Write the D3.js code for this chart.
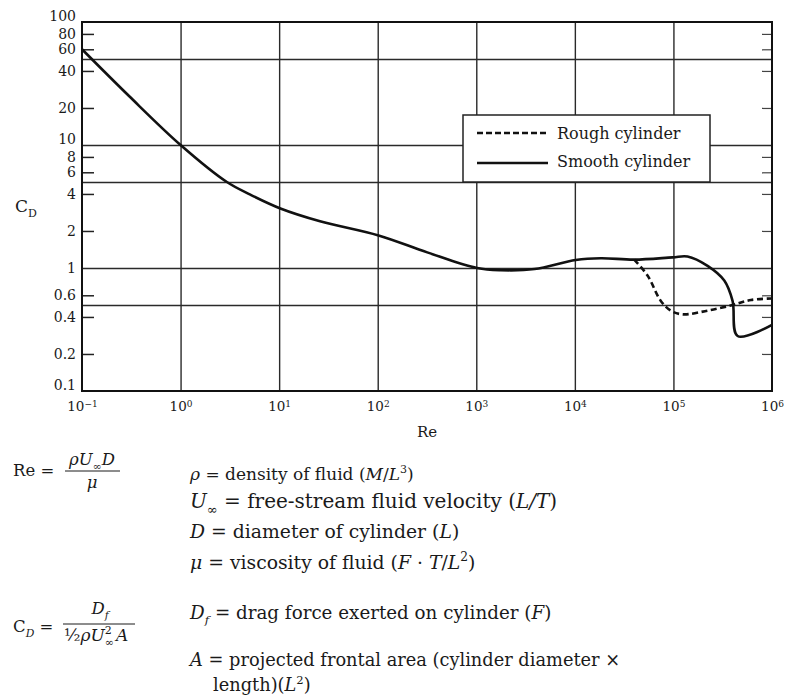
<!DOCTYPE html>
<head>
  <meta charset="utf-8" />
  <script src="https://cdn.jsdelivr.net/npm/d3@7"></script>
  <style>
    body { margin: 0; background: #fff; }
    svg { display: block; }
    text { font-family: "DejaVu Serif", serif; fill: #1a1a1a; }
  </style>
</head>
<body>
  <svg width="788" height="700"></svg>
  <script>
    // drag coefficient of a cylinder vs Reynolds number
    const reSmooth = [0.1, 0.3, 1, 2.95, 5.1, 10.3, 26, 102, 318, 1020, 1770, 3900, 10200, 18300, 40000, 98000, 139000, 222000, 328000, 398000, 448000, 1000000];
    const cdSmooth = [60, 25, 10, 5.0, 3.95, 3.05, 2.4, 1.84, 1.34, 1.0, 0.96, 0.98, 1.16, 1.2, 1.17, 1.22, 1.24, 1.04, 0.79, 0.54, 0.28, 0.345];
    const reRough = [40000, 54600, 74500, 94200, 124000, 222000, 398000, 612000, 1000000];
    const cdRough = [1.17, 0.87, 0.54, 0.45, 0.42, 0.45, 0.50, 0.55, 0.565];

    const xTicks = [0.1, 1, 10, 100, 1e3, 1e4, 1e5, 1e6];
    const xGrid = [1, 10, 100, 1e3, 1e4, 1e5];
    const yLabels = [100, 80, 60, 40, 20, 10, 8, 6, 4, 2, 1, 0.6, 0.4, 0.2, 0.1];
    const yMinor = [80, 60, 40, 20, 8, 6, 4, 2, 0.6, 0.4, 0.2];
    const yGrid = [50, 10, 5, 1, 0.5];
    const seriesNames = ["Rough cylinder", "Smooth cylinder"];

    const pL = 82, pR = 772, pT = 22, pB = 391;
    const svg = d3.select("svg");

    const x = d3.scaleLog().domain([0.1, 1e6]).range([pL, pR]);
    const y = d3.scaleLog().domain([0.1, 100]).range([pB, pT]);

    // grid
    svg.append("g").attr("transform", `translate(0,${pB})`)
      .call(d3.axisBottom(x).tickValues(xGrid).tickSize(-(pB - pT)).tickFormat(""))
      .call(g => g.select(".domain").remove())
      .selectAll("line").attr("stroke", "#2a2a2a").attr("stroke-width", 1.4);
    svg.append("g").attr("transform", `translate(${pL},0)`)
      .call(d3.axisLeft(y).tickValues(yGrid).tickSize(-(pR - pL)).tickFormat(""))
      .call(g => g.select(".domain").remove())
      .selectAll("line").attr("stroke", "#2a2a2a").attr("stroke-width", 1.4);

    // little inward ticks on both sides
    svg.append("g").attr("transform", `translate(${pL},0)`)
      .call(d3.axisRight(y).tickValues(yMinor).tickSize(12).tickFormat(""))
      .call(g => g.select(".domain").remove())
      .selectAll("line").attr("stroke", "#222").attr("stroke-width", 1.5);
    svg.append("g").attr("transform", `translate(${pR},0)`)
      .call(d3.axisLeft(y).tickValues(yMinor).tickSize(10).tickFormat(""))
      .call(g => g.select(".domain").remove())
      .selectAll("line").attr("stroke", "#444").attr("stroke-width", 1.2);

    // y labels
    svg.append("g").attr("transform", `translate(${pL},0)`)
      .call(d3.axisLeft(y).tickValues(yLabels).tickSize(0).tickPadding(6).tickFormat(d => String(d)))
      .call(g => g.select(".domain").remove())
      .selectAll("text")
      .attr("font-size", 14)
      .attr("font-family", "DejaVu Serif")
      .attr("fill", "#1a1a1a")
      .attr("dy", d => [100, 10, 0.1].includes(d) ? "-0.08em" : "0.32em");

    // x labels as 10^n
    svg.append("g").attr("transform", `translate(0,${pB})`)
      .call(d3.axisBottom(x).tickValues(xTicks).tickSize(0).tickPadding(10))
      .call(g => g.select(".domain").remove())
      .selectAll("text")
      .attr("font-size", 13.5)
      .attr("font-family", "DejaVu Serif")
      .attr("fill", "#1a1a1a")
      .each(function (d) {
        const t = d3.select(this);
        const e = Math.round(Math.log10(d));
        t.text(null);
        t.append("tspan").text("10");
        t.append("tspan").attr("dy", "-0.45em").attr("font-size", 9).text(e < 0 ? "\u2212" + (-e) : e);
      });

    // frame
    svg.append("rect")
      .attr("x", pL).attr("y", pT)
      .attr("width", pR - pL).attr("height", pB - pT)
      .attr("fill", "none").attr("stroke", "#111").attr("stroke-width", 2);

    // curves
    const line = d3.line().x(d => x(d[0])).y(d => y(d[1])).curve(d3.curveCatmullRom.alpha(0.5));
    svg.append("path")
      .datum(reSmooth.map((r, i) => [r, cdSmooth[i]]))
      .attr("d", line)
      .attr("fill", "none").attr("stroke", "#111").attr("stroke-width", 2.6);
    svg.append("path")
      .datum(reRough.map((r, i) => [r, cdRough[i]]))
      .attr("d", line)
      .attr("fill", "none").attr("stroke", "#111").attr("stroke-width", 2.6)
      .attr("stroke-dasharray", "6,3.5");

    // legend
    const lg = svg.append("g").attr("transform", "translate(463,115)");
    lg.append("rect").attr("width", 247).attr("height", 67)
      .attr("fill", "#fff").attr("stroke", "#222").attr("stroke-width", 1.5);
    seriesNames.forEach((name, i) => {
      lg.append("line")
        .attr("x1", 14).attr("x2", 85).attr("y1", 18 + i * 30).attr("y2", 18 + i * 30)
        .attr("stroke", "#111").attr("stroke-width", 2.6)
        .attr("stroke-dasharray", i === 0 ? "6,3" : null);
      lg.append("text").attr("x", 94).attr("y", 24 + i * 28)
        .attr("font-size", 16).text(name);
    });

    // rich text helper: parts = [text, style, dx]
    function rich(px, py, parts, size, anchor) {
      const t = svg.append("text").attr("x", px).attr("y", py)
        .attr("font-size", size).attr("text-anchor", anchor || "start");
      let shift = 0;
      parts.forEach(p => {
        const s = p[0], st = p[1] || "", dx = p[2] || 0;
        let target = 0;
        if (st.endsWith("sub")) target = size * 0.3;
        if (st.endsWith("sup")) target = -size * 0.42;
        const ts = t.append("tspan").attr("dy", target - shift).text(s);
        if (dx) ts.attr("dx", dx);
        shift = target;
        if (st.startsWith("i")) ts.attr("font-style", "italic");
        if (target !== 0) ts.attr("font-size", size * 0.65);
      });
      return t;
    }

    // axis titles
    svg.append("text").attr("x", 427).attr("y", 437).attr("text-anchor", "middle")
      .attr("font-size", 15).text("Re");
    rich(15, 212, [["C"], ["D", "sub"]], 17);

    // Re formula
    rich(13, 476, [["Re ="]], 16.5);
    rich(92, 465, [["\u03c1", "i"], ["U", "i"], ["\u221e", "sub"], ["D", "i"]], 16.5, "middle");
    svg.append("line").attr("x1", 65).attr("x2", 120).attr("y1", 471).attr("y2", 471)
      .attr("stroke", "#1a1a1a").attr("stroke-width", 1);
    rich(92, 488, [["\u03bc", "i"]], 16.5, "middle");

    // C_D formula
    rich(13, 632, [["C"], ["D", "isub"], [" ="]], 16.5);
    rich(100, 614, [["D", "i"], ["f", "isub"]], 16.5, "middle");
    svg.append("line").attr("x1", 63).attr("x2", 135).attr("y1", 624).attr("y2", 624)
      .attr("stroke", "#1a1a1a").attr("stroke-width", 1);
    rich(64, 641, [["\u00bd"], ["\u03c1U", "i"], ["2", "sup"], ["\u221e", "sub", -7], ["A", "i", 2]], 17);

    // definitions
    rich(190, 480, [["\u03c1", "i"], [" = density of fluid ("], ["M", "i"], ["/"], ["L", "i"], ["3", "sup"], [")"]], 17);
    rich(190, 508, [["U", "i"], ["\u221e", "sub"], [" = free-stream fluid velocity ("], ["L/T", "i"], [")"]], 20);
    rich(190, 538, [["D", "i"], [" = diameter of cylinder ("], ["L", "i"], [")"]], 18.8);
    rich(190, 569, [["\u03bc", "i"], [" = viscosity of fluid ("], ["F", "i"], [" \u00b7 "], ["T", "i"], ["/"], ["L", "i"], ["2", "sup"], [")"]], 18.8);
    rich(190, 619, [["D", "i"], ["f", "isub"], [" = drag force exerted on cylinder ("], ["F", "i"], [")"]], 18.3);
    rich(190, 666, [["A", "i"], [" = projected frontal area (cylinder diameter \u00d7"]], 17.8);
    rich(213, 691, [["length)("], ["L", "i"], ["2", "sup"], [")"]], 17.8);
  </script>
</body>
